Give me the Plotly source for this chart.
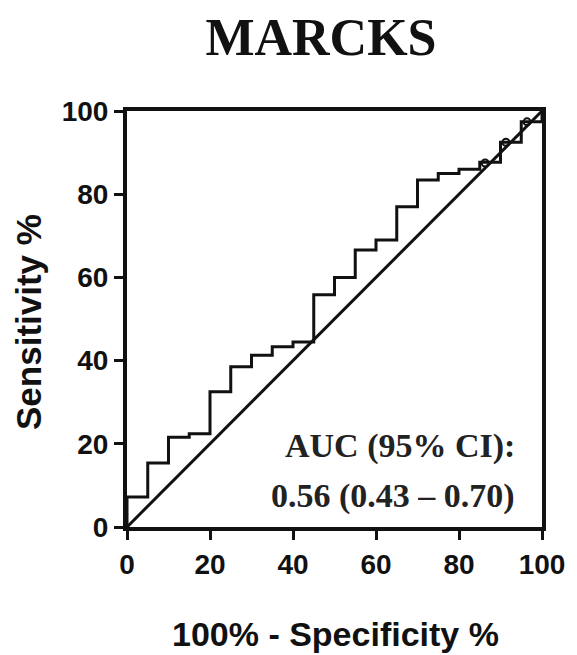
import plotly.graph_objects as go

# ROC step curve (100% - Specificity %, Sensitivity %)
fpr = [0, 0, 5, 10, 15, 20, 25, 30, 35, 40, 45, 50, 55, 60, 65, 70, 75, 80, 85, 90, 95, 100]
tpr = [0, 7.2, 15.4, 21.6, 22.4, 32.5, 38.5, 41.3, 43.3, 44.5, 55.8, 60, 66.6, 69, 77, 83.4, 85, 86, 87.7, 92.5, 97.4, 100]
# small open circles near the diagonal
circ_x = [86.3, 91.3, 96.4]
circ_y = [87.5, 92.5, 97.4]
diag_x = [0, 100]
diag_y = [0, 100]
ticks = [0, 20, 40, 60, 80, 100]

title_text = "MARCKS"
xlabel = "100% - Specificity %"
ylabel = "Sensitivity %"
auc_line1 = "AUC (95% CI):"
auc_line2 = "0.56 (0.43 – 0.70)"

W, H = 577, 655
ML, MR, MT, MB = 127, 35, 111, 128
PW, PH = W - ML - MR, H - MT - MB


def px_to_paper(px, py):
    return (px - ML) / PW, (H - MB - py) / PH


fig = go.Figure()
fig.add_trace(go.Scatter(x=diag_x, y=diag_y, mode="lines",
                         line=dict(color="#111", width=3), cliponaxis=False,
                         showlegend=False, hoverinfo="skip"))
fig.add_trace(go.Scatter(x=fpr, y=tpr, mode="lines", line_shape="hv",
                         line=dict(color="#111", width=3), cliponaxis=False,
                         showlegend=False))
fig.add_trace(go.Scatter(x=circ_x, y=circ_y, mode="markers",
                         marker=dict(symbol="circle-open", size=7, color="#111",
                                     line=dict(width=2)),
                         cliponaxis=False, showlegend=False))

axis_common = dict(range=[0, 100], tickvals=ticks, showline=True, mirror=True,
                   linecolor="#111", linewidth=4, ticks="outside", ticklen=9,
                   tickwidth=3, tickcolor="#111", showgrid=False, zeroline=False,
                   tickfont=dict(family="Liberation Sans, Arial", size=28,
                                 color="#111", weight="bold"))

fig.update_xaxes(**axis_common)
fig.update_yaxes(**axis_common)

# axis titles as annotations
xt_x, xt_y = px_to_paper(335, 634)
fig.add_annotation(x=xt_x, y=xt_y, xref="paper", yref="paper",
                   text="<b>" + xlabel + "</b>", showarrow=False,
                   xanchor="center", yanchor="middle",
                   font=dict(family="Liberation Sans, Arial", size=34, color="#111"))
yt_x, yt_y = px_to_paper(28, 322)
fig.add_annotation(x=yt_x, y=yt_y, xref="paper", yref="paper",
                   text="<b>" + ylabel + "</b>", showarrow=False, textangle=-90,
                   xanchor="center", yanchor="middle",
                   font=dict(family="Liberation Sans, Arial", size=35, color="#111"))

fig.add_annotation(x=94, y=19.5, xref="x", yref="y", text="<b>" + auc_line1 + "</b>",
                   showarrow=False, xanchor="right", yanchor="middle",
                   font=dict(family="Liberation Serif, Times New Roman", size=34, color="#222"))
fig.add_annotation(x=94, y=7.5, xref="x", yref="y", text="<b>" + auc_line2 + "</b>",
                   showarrow=False, xanchor="right", yanchor="middle",
                   font=dict(family="Liberation Serif, Times New Roman", size=34, color="#222"))

fig.update_layout(
    width=W, height=H,
    margin=dict(l=ML, r=MR, t=MT, b=MB),
    paper_bgcolor="white", plot_bgcolor="white",
    title=dict(text="<b>" + title_text + "</b>", x=321 / W, xanchor="center",
               y=1 - 37 / H, yanchor="middle",
               font=dict(family="Liberation Serif, Times New Roman", size=52, color="#111")),
)

fig.write_html("out.html")
